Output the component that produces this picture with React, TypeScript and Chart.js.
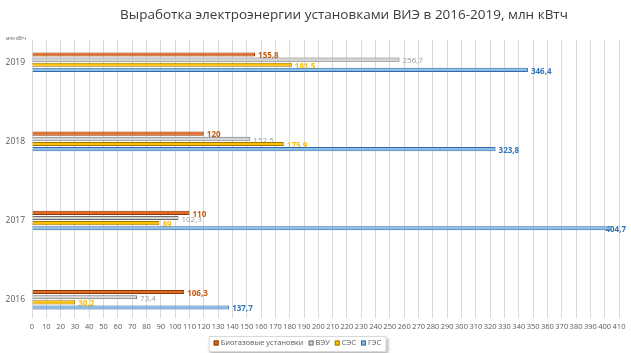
import React, { useEffect, useRef } from 'react';
import { Chart, registerables } from 'chart.js';

Chart.register(...registerables);

const TITLE = 'Выработка электроэнергии установками ВИЭ в 2016-2019, млн кВтч';
const UNIT = 'млн кВтч';
const years = ['2019', '2018', '2017', '2016'];
const seriesNames = ['Биогазовые установки', 'ВЭУ', 'СЭС', 'ГЭС'];
const biogas = [155.8, 120, 110, 106.3];
const wind = [256.7, 152.5, 102.3, 73.4];
const solar = [181.5, 175.9, 89, 30.2];
const hydro = [346.4, 323.8, 404.7, 137.7];
const xMin = 0;
const xMax = 410;
const xStep = 10;

const fills = ['#E2691F', '#D4D4D4', '#FFC000', '#8DBCE6'];
const borders = ['#8A3A0C', '#6E6E6E', '#A07A00', '#2F6BAA'];
const labelColors = ['#C55A11', '#9A9A9A', '#FFC000', '#2E75B6'];
const labelWeights = ['bold', 'normal', 'bold', 'bold'];

const FONT = '"Open Sans", "Noto Sans", sans-serif';

const fmt = (v: number) => String(v).replace('.', ',');

const overlay = {
  id: 'overlay',
  beforeDatasetsDraw(chart: any) {
    const ctx = chart.ctx;
    ctx.save();
    chart.data.datasets.forEach((ds: any, di: number) => {
      const meta = chart.getDatasetMeta(di);
      meta.data.forEach((bar: any, i: number) => {
        const v = ds.data[i];
        const txt = fmt(v);
        ctx.font = `${labelWeights[di]} 8px ${FONT}`;
        ctx.fillStyle = labelColors[di];
        ctx.textAlign = 'left';
        ctx.textBaseline = 'middle';
        const w = ctx.measureText(txt).width;
        const x = Math.min(bar.x + 3, chart.width - 5 - w);
        ctx.fillText(txt, x, bar.y + 1.5);
      });
    });
    ctx.restore();
  },
  afterDraw(chart: any) {
    const ctx = chart.ctx;
    ctx.save();
    // title
    ctx.font = `13.5px ${FONT}`;
    ctx.fillStyle = '#3A3A3A';
    ctx.textAlign = 'center';
    ctx.textBaseline = 'middle';
    ctx.fillText(TITLE, 344, 15);
    // unit
    ctx.font = `4.5px ${FONT}`;
    ctx.fillStyle = '#595959';
    ctx.textAlign = 'left';
    ctx.fillText(UNIT, 6, 39);
    // legend
    ctx.font = `7.5px ${FONT}`;
    const box = 5;
    const gapAfterBox = 2;
    const itemGap = 5;
    const widths = seriesNames.map((n) => box + gapAfterBox + ctx.measureText(n).width);
    const total = widths.reduce((a, b) => a + b, 0) + itemGap * (seriesNames.length - 1);
    const padX = 5;
    const bw = total + padX * 2;
    const bh = 16;
    const bx = 297.5 - bw / 2;
    const by = 336;
    ctx.fillStyle = '#ffffff';
    ctx.shadowColor = 'rgba(0,0,0,0.35)';
    ctx.shadowBlur = 3;
    ctx.shadowOffsetX = 1.5;
    ctx.shadowOffsetY = 1.5;
    ctx.fillRect(bx, by, bw, bh);
    ctx.shadowColor = 'transparent';
    ctx.strokeStyle = '#D9D9D9';
    ctx.lineWidth = 1;
    ctx.strokeRect(bx + 0.5, by + 0.5, bw - 1, bh - 1);
    let x = bx + padX;
    const cy = by + bh / 2 - 1;
    seriesNames.forEach((n, i) => {
      ctx.fillStyle = fills[i];
      ctx.fillRect(x, cy - box / 2, box, box);
      ctx.strokeStyle = borders[i];
      ctx.strokeRect(x + 0.5, cy - box / 2 + 0.5, box - 1, box - 1);
      ctx.fillStyle = '#595959';
      ctx.textBaseline = 'middle';
      ctx.fillText(n, x + box + gapAfterBox, cy);
      x += widths[i] + itemGap;
    });
    ctx.restore();
  },
};

export default function App() {
  const ref = useRef<HTMLCanvasElement | null>(null);
  useEffect(() => {
    if (!ref.current) return;
    const values = [biogas, wind, solar, hydro];
    const chart = new Chart(ref.current, {
      type: 'bar',
      data: {
        labels: years,
        datasets: seriesNames.map((name, i) => ({
          label: name,
          data: values[i],
          backgroundColor: fills[i],
          borderColor: borders[i],
          borderWidth: 1,
          categoryPercentage: 0.26,
          barPercentage: 0.8,
        })),
      },
      options: {
        indexAxis: 'y',
        animation: false,
        responsive: false,
        maintainAspectRatio: false,
        layout: { padding: { top: 40, right: 12, left: 0, bottom: 21 } },
        plugins: {
          legend: { display: false },
          title: { display: false },
          tooltip: { enabled: false },
        },
        scales: {
          x: {
            type: 'linear',
            min: xMin,
            max: xMax,
            position: 'bottom',
            offset: false,
            ticks: {
              stepSize: xStep,
              autoSkip: false,
              maxRotation: 0,
              padding: 4,
              color: '#595959',
              font: { family: FONT, size: 7.5 },
            },
            grid: { color: '#D9D9D9', drawTicks: false, offset: false },
            border: { display: false },
            afterFit: (s: any) => {
              s.height = 14;
            },
          },
          y: {
            type: 'linear',
            min: 2015.77,
            max: 2019.28,
            offset: false,
            afterBuildTicks: (s: any) => {
              s.ticks = years.map((y) => ({ value: Number(y) }));
            },
            ticks: {
              callback: (v: any) => String(v),
              padding: 7,
              color: '#595959',
              font: { family: FONT, size: 8.5 },
            },
            grid: { display: false, drawTicks: false, offset: false },
            border: { display: false },
            afterFit: (s: any) => {
              s.width = 32;
            },
          },
        },
      },
      plugins: [overlay],
    });
    return () => chart.destroy();
  }, []);
  return (
    <div style={{ position: 'fixed', left: 0, top: 0, width: 631, height: 353, background: '#fff' }}>
      <canvas ref={ref} width={631} height={353} style={{ width: 631, height: 353, display: 'block' }} />
    </div>
  );
}
